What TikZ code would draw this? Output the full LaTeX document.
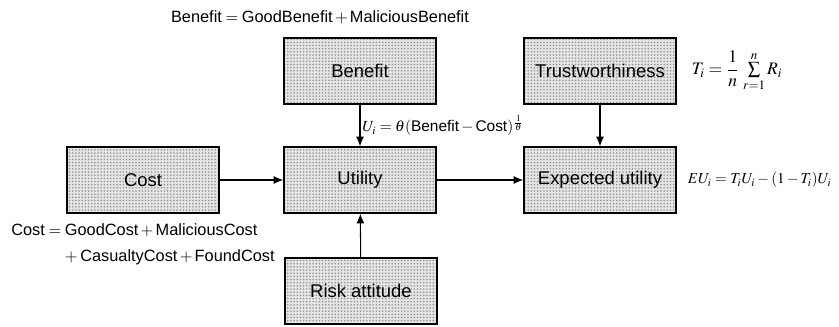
\documentclass[tikz,border=0pt]{standalone}
\usepackage{amsmath}
\usepackage{mathptmx}
\usepackage[no-math]{fontspec}
\setmainfont{Liberation Sans}
\usepackage{tikz}
\usetikzlibrary{arrows,arrows.meta,positioning,patterns.meta}
\newcommand{\formulafont}{\fontsize{9.3}{11}\selectfont}
\tikzset{block/.style={draw=black,thick,minimum width=3.04cm,minimum height=1.32cm,
    font=\fontsize{10.5}{12}\selectfont,preaction={fill=gray!20},
    pattern={Dots[distance=1.8pt,radius=0.5pt]},pattern color=gray!85}}

\begin{document}
\begin{tikzpicture}[->, >={Latex[length=5.5pt,width=4.5pt]}, auto, semithick, x=0.02cm, y=-0.02cm]
        \useasboundingbox (0,0) rectangle (839,327);
        \node[block] (benefit) at (360,71) {Benefit};
        \node[block] (trust) at (600,71) {Trustworthiness};
        \node[block] (cost) at (143,180) {Cost};
        \node[block] (utility) at (360,180) {Utility};
        \node[block] (expected) at (600,180) {Expected utility};
        \node[block] (risk) at (361,291) {Risk attitude};
        \node[font=\formulafont] (benefiteq) at (320,17) {Benefit${}={}$GoodBenefit${}+{}$MaliciousBenefit};
        \node[right=5pt of trust] (trusteq) {$T_i=\dfrac{1}{n}\,\sum\limits_{r=1}^{n}R_i$};
        \node[right=5pt of expected, inner sep=1pt, font=\fontsize{8.6}{10}\selectfont] (expectedeq) {$EU_i=T_iU_i-(1-T_i)U_i$};
        \node[below=1pt of cost, font=\formulafont] (costeq) {\begin{tabular}{@{}r@{}l@{}}
            Cost${}={}$&GoodCost${}+{}$MaliciousCost\\[3.8pt]
            &$+$\,CasualtyCost${}+{}$FoundCost\end{tabular}};
        \path (benefit) edge node[right, inner sep=1pt, font=\fontsize{8.8}{10}\selectfont] {$U_i=\theta(\mbox{Benefit}-\mbox{Cost})^{\frac{1}{\theta}}$} (utility);
        \path (trust) edge node {} (expected);
        \path (cost) edge node {} (utility);
        \path (utility) edge node {} (expected);
        \path (risk) edge node {} (utility);
\end{tikzpicture}
\end{document}
